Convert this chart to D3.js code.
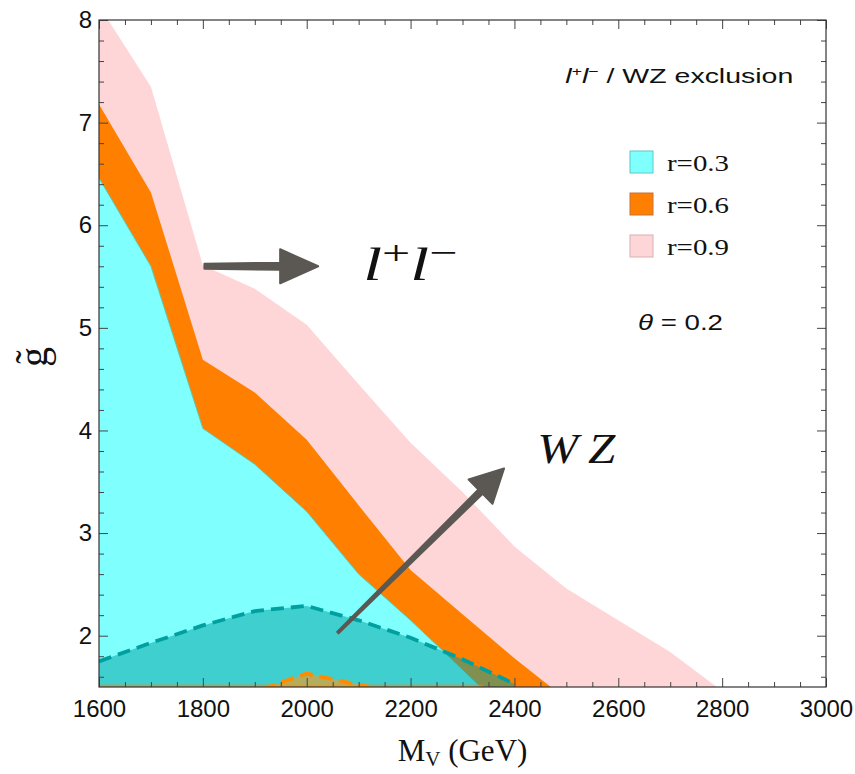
<!DOCTYPE html>
<html>
<head>
<meta charset="utf-8">
<script src="https://cdn.jsdelivr.net/npm/d3@7"></script>
<style>
  body { margin: 0; background: #fff; }
  svg { display: block; }
</style>
</head>
<body>
<svg id="svg_exclusion" width="855" height="774"></svg>
<script>
// l+l- / WZ exclusion in the (M_V, g~) plane, theta = 0.2

// l+l- exclusion, upper edge of each filled region (GeV, g~)
const massR03 = [1600, 1700, 1800, 1900, 2000, 2100, 2200, 2300, 2335];
const gR03    = [6.46, 5.60, 4.02, 3.67, 3.21, 2.60, 2.15, 1.67, 1.50];

const massR06 = [1600, 1700, 1800, 1900, 2000, 2100, 2200, 2300, 2400, 2470];
const gR06    = [7.18, 6.32, 4.69, 4.37, 3.91, 3.27, 2.64, 2.21, 1.78, 1.50];

const massR09 = [1600, 1700, 1800, 1900, 2000, 2100, 2200, 2300, 2400, 2500, 2600, 2700, 2790];
const gR09    = [8.14, 7.35, 5.61, 5.38, 5.03, 4.45, 3.88, 3.40, 2.87, 2.46, 2.15, 1.84, 1.50];

// WZ exclusion (dashed contours)
const massWZ03 = [1600, 1700, 1800, 1900, 2000, 2100, 2200, 2300, 2400];
const gWZ03    = [1.75, 1.93, 2.10, 2.24, 2.29, 2.15, 1.98, 1.77, 1.53];

const massWZ06 = [1915, 2000, 2120];
const gWZ06    = [1.48, 1.63, 1.50];

// thin WZ r=0.6 sliver hugging the lower frame
const massWZ06Strip = [1600, 2340];
const gWZ06Strip    = [1.525, 1.525];

// Axes
const xTicks = [1600, 1800, 2000, 2200, 2400, 2600, 2800, 3000];
const yTicks = [2, 3, 4, 5, 6, 7, 8];

// Legend
const legendLabels = ['r=0.3', 'r=0.6', 'r=0.9'];
const legendColors = ['#80ffff', '#ff8000', '#ffd6d8'];
const legendEdges  = ['#5cc8c8', '#c8703a', '#d8b0b0'];

class ExclusionChart {

    constructor() {
        this.svg = d3.select('#svg_exclusion');

        this.left = 99;
        this.right = 826;
        this.top = 20;
        this.bottom = 687;

        /* Make Scales */
        this.xScale = d3.scaleLinear()
                        .domain([1600, 3000])
                        .range([this.left, this.right]);

        this.yScale = d3.scaleLinear()
                        .domain([1.5, 8])
                        .range([this.bottom, this.top]);
    }

    draw() {
        this.svg.append('clipPath')
                .attr('id', 'plotClip')
                .append('rect')
                .attr('x', this.left)
                .attr('y', this.top)
                .attr('width', this.right - this.left)
                .attr('height', this.bottom - this.top);

        this.plot = this.svg.append('g').attr('clip-path', 'url(#plotClip)');

        this.drawRegions();
        this.drawAxes();
        this.drawLegend();
        this.drawAnnotations();
    }

    zipped(mass, g) {
        return mass.map((m, i) => ({ m: m, g: g[i] }));
    }

    areaGen() {
        return d3.area()
                 .x(d => this.xScale(d.m))
                 .y0(this.yScale(1.5))
                 .y1(d => this.yScale(d.g));
    }

    lineGen() {
        return d3.line()
                 .x(d => this.xScale(d.m))
                 .y(d => this.yScale(d.g));
    }

    drawRegions() {
        let area = this.areaGen();
        let line = this.lineGen();

        // l+l- regions, widest first
        this.plot.append('path')
           .datum(this.zipped(massR09, gR09))
           .attr('fill', legendColors[2])
           .attr('d', area);

        this.plot.append('path')
           .datum(this.zipped(massR06, gR06))
           .attr('fill', legendColors[1])
           .attr('d', area);

        this.plot.append('path')
           .datum(this.zipped(massR03, gR03))
           .attr('fill', legendColors[0])
           .attr('d', area);

        this.plot.append('path')
           .datum(this.zipped(massR03, gR03))
           .attr('fill', 'none')
           .attr('stroke', '#5fc8b0')
           .attr('stroke-width', 1)
           .attr('d', line);

        // WZ r=0.3
        this.plot.append('path')
           .datum(this.zipped(massWZ03, gWZ03))
           .attr('fill', 'rgba(0,160,160,0.5)')
           .attr('d', area);

        this.plot.append('path')
           .datum(this.zipped(massWZ03, gWZ03))
           .attr('fill', 'none')
           .attr('stroke', '#00a0a0')
           .attr('stroke-width', 3.8)
           .attr('stroke-dasharray', '13,7')
           .attr('d', line);

        // WZ r=0.6
        this.plot.append('path')
           .datum(this.zipped(massWZ06Strip, gWZ06Strip))
           .attr('fill', 'rgba(255,128,0,0.5)')
           .attr('d', area);

        this.plot.append('path')
           .datum(this.zipped(massWZ06, gWZ06))
           .attr('fill', 'rgba(255,150,20,0.6)')
           .attr('d', area);

        this.plot.append('path')
           .datum(this.zipped(massWZ06, gWZ06))
           .attr('fill', 'none')
           .attr('stroke', '#ff8c00')
           .attr('stroke-width', 4)
           .attr('stroke-dasharray', '13,7')
           .attr('d', line);
    }

    drawAxes() {
        let svg = this.svg;
        let xMinor = d3.range(1650, 3000, 50).filter(v => v % 200 !== 0);
        let yMinor = d3.range(16, 80, 2).map(v => v / 10).filter(v => !Number.isInteger(v));

        let addAxis = (axis, transform, values, size, labels) => {
            let g = svg.append('g')
                       .attr('transform', transform)
                       .call(axis.tickValues(values)
                                 .tickSizeInner(-size)
                                 .tickSizeOuter(0)
                                 .tickPadding(6)
                                 .tickFormat(labels ? d => `${d}` : ''));
            g.select('.domain').remove();
            g.selectAll('line').attr('stroke', '#444').attr('stroke-width', 1);
            g.selectAll('text')
             .attr('fill', '#111')
             .style('font-family', '"Liberation Sans", Arial, sans-serif')
             .style('font-size', '24px');
            return g;
        };

        // bottom / top
        addAxis(d3.axisBottom(this.xScale), `translate(0, ${this.bottom})`, xTicks, 9, true)
            .selectAll('text').attr('dy', '0.82em').attr('y', 10);
        addAxis(d3.axisBottom(this.xScale), `translate(0, ${this.bottom})`, xMinor, 5, false);
        addAxis(d3.axisTop(this.xScale), `translate(0, ${this.top})`, xTicks, 9, false);
        addAxis(d3.axisTop(this.xScale), `translate(0, ${this.top})`, xMinor, 5, false);

        // left / right
        addAxis(d3.axisLeft(this.yScale), `translate(${this.left}, 0)`, yTicks, 9, true)
            .selectAll('text').attr('x', -7);
        addAxis(d3.axisLeft(this.yScale), `translate(${this.left}, 0)`, yMinor, 5, false);
        addAxis(d3.axisRight(this.yScale), `translate(${this.right}, 0)`, yTicks, 9, false);
        addAxis(d3.axisRight(this.yScale), `translate(${this.right}, 0)`, yMinor, 5, false);

        // frame
        svg.append('rect')
           .attr('x', this.left)
           .attr('y', this.top)
           .attr('width', this.right - this.left)
           .attr('height', this.bottom - this.top)
           .attr('fill', 'none')
           .attr('stroke', '#333')
           .attr('stroke-width', 1.2);

        // x label
        let xl = svg.append('text')
                    .attr('x', (this.left + this.right) / 2)
                    .attr('y', 761)
                    .attr('text-anchor', 'middle')
                    .style('font-family', '"Liberation Serif", "Times New Roman", serif')
                    .style('font-size', '31px')
                    .attr('fill', '#111');
        xl.append('tspan').text('M');
        xl.append('tspan').attr('dy', 5).style('font-size', '21px').text('V');
        xl.append('tspan').attr('dy', -5).text(' (GeV)');

        // y label, g with tilde, rotated
        let yl = svg.append('g')
                    .attr('transform', 'translate(47, 357) rotate(-90)')
                    .style('font-family', '"Liberation Serif", "Times New Roman", serif')
                    .style('font-size', '40px')
                    .attr('fill', '#111');
        yl.append('text').attr('text-anchor', 'middle').text('g');
        yl.append('text').attr('text-anchor', 'middle').attr('y', -4).text('\u02DC');
    }

    drawLegend() {
        let svg = this.svg;
        let rows = [0, 1, 2];

        let legend = svg.append('g').attr('transform', 'translate(630, 151)');

        legend.selectAll('rect')
              .data(rows)
              .join('rect')
              .attr('x', 0)
              .attr('y', i => i * 42)
              .attr('width', 23)
              .attr('height', 22)
              .attr('fill', i => legendColors[i])
              .attr('stroke', i => legendEdges[i])
              .attr('stroke-width', 1);

        legend.selectAll('text')
              .data(rows)
              .join('text')
              .attr('x', 37)
              .attr('y', i => 19.5 + i * 42)
              .attr('textLength', 62)
              .attr('lengthAdjust', 'spacingAndGlyphs')
              .style('font-family', '"Liberation Serif", "Times New Roman", serif')
              .style('font-size', '23px')
              .attr('fill', '#111')
              .text(i => legendLabels[i]);
    }

    arrow(from, to, tailHalf, shaftHalf, headLen, headHalf) {
        let x0 = this.xScale(from[0]), y0 = this.yScale(from[1]);
        let x1 = this.xScale(to[0]), y1 = this.yScale(to[1]);
        let len = Math.hypot(x1 - x0, y1 - y0);
        let ux = (x1 - x0) / len, uy = (y1 - y0) / len;
        let nx = -uy, ny = ux;
        let bx = x1 - ux * headLen, by = y1 - uy * headLen;
        let pts = [
            [x0 + nx * tailHalf, y0 + ny * tailHalf],
            [bx + nx * shaftHalf, by + ny * shaftHalf],
            [bx + nx * headHalf, by + ny * headHalf],
            [x1, y1],
            [bx - nx * headHalf, by - ny * headHalf],
            [bx - nx * shaftHalf, by - ny * shaftHalf],
            [x0 - nx * tailHalf, y0 - ny * tailHalf]
        ];
        this.svg.append('path')
           .attr('d', d3.line()(pts) + 'Z')
           .attr('fill', '#5b5853')
           .attr('stroke', '#5b5853')
           .attr('stroke-width', 2)
           .attr('stroke-linejoin', 'round');
    }

    drawAnnotations() {
        let svg = this.svg;
        let serif = '"Liberation Serif", "Times New Roman", serif';
        let sans = '"Liberation Sans", Arial, sans-serif';

        this.arrow([1803, 5.60], [2022, 5.60], 2.5, 3.5, 38, 17);
        this.arrow([2060, 2.03], [2380, 3.63], 1, 3, 33, 17);

        // title
        let title = svg.append('text')
                       .attr('x', this.xScale(2498))
                       .attr('y', this.yScale(7.39))
                       .attr('textLength', 228)
                       .attr('lengthAdjust', 'spacingAndGlyphs')
                       .style('font-family', sans)
                       .style('font-size', '21px')
                       .attr('fill', '#111');
        title.append('tspan').style('font-style', 'italic').text('l');
        title.append('tspan').attr('dy', -7).style('font-size', '13px').text('+');
        title.append('tspan').attr('dy', 7).style('font-style', 'italic').text('l');
        title.append('tspan').attr('dy', -7).style('font-size', '13px').text('\u2212');
        title.append('tspan').attr('dy', 7).text(' / WZ exclusion');

        // theta
        let th = svg.append('text')
                    .attr('x', this.xScale(2638))
                    .attr('y', this.yScale(4.98))
                    .attr('textLength', 85)
                    .attr('lengthAdjust', 'spacingAndGlyphs')
                    .style('font-family', sans)
                    .style('font-size', '22px')
                    .attr('fill', '#111');
        th.append('tspan').style('font-style', 'italic').text('\u03B8');
        th.append('tspan').text(' = 0.2');

        // l+l- label
        let ll = svg.append('text')
                    .attr('x', this.xScale(2109))
                    .attr('y', this.yScale(5.47))
                    .attr('textLength', 94)
                    .attr('lengthAdjust', 'spacingAndGlyphs')
                    .style('font-family', serif)
                    .style('font-size', '46px')
                    .style('font-style', 'italic')
                    .attr('fill', '#111');
        ll.append('tspan').text('l');
        ll.append('tspan').attr('dy', -16).style('font-style', 'normal').style('font-size', '34px').text('+');
        ll.append('tspan').attr('dy', 16).text('l');
        ll.append('tspan').attr('dy', -16).style('font-style', 'normal').style('font-size', '34px').text('\u2212');

        // WZ label
        svg.append('text')
           .attr('x', this.xScale(2444))
           .attr('y', this.yScale(3.68))
           .attr('textLength', 78)
           .attr('lengthAdjust', 'spacingAndGlyphs')
           .style('font-family', serif)
           .style('font-size', '42px')
           .style('font-style', 'italic')
           .attr('fill', '#111')
           .text('W\u2009Z');
    }
}

let chart = new ExclusionChart();
chart.draw();
</script>
</body>
</html>
